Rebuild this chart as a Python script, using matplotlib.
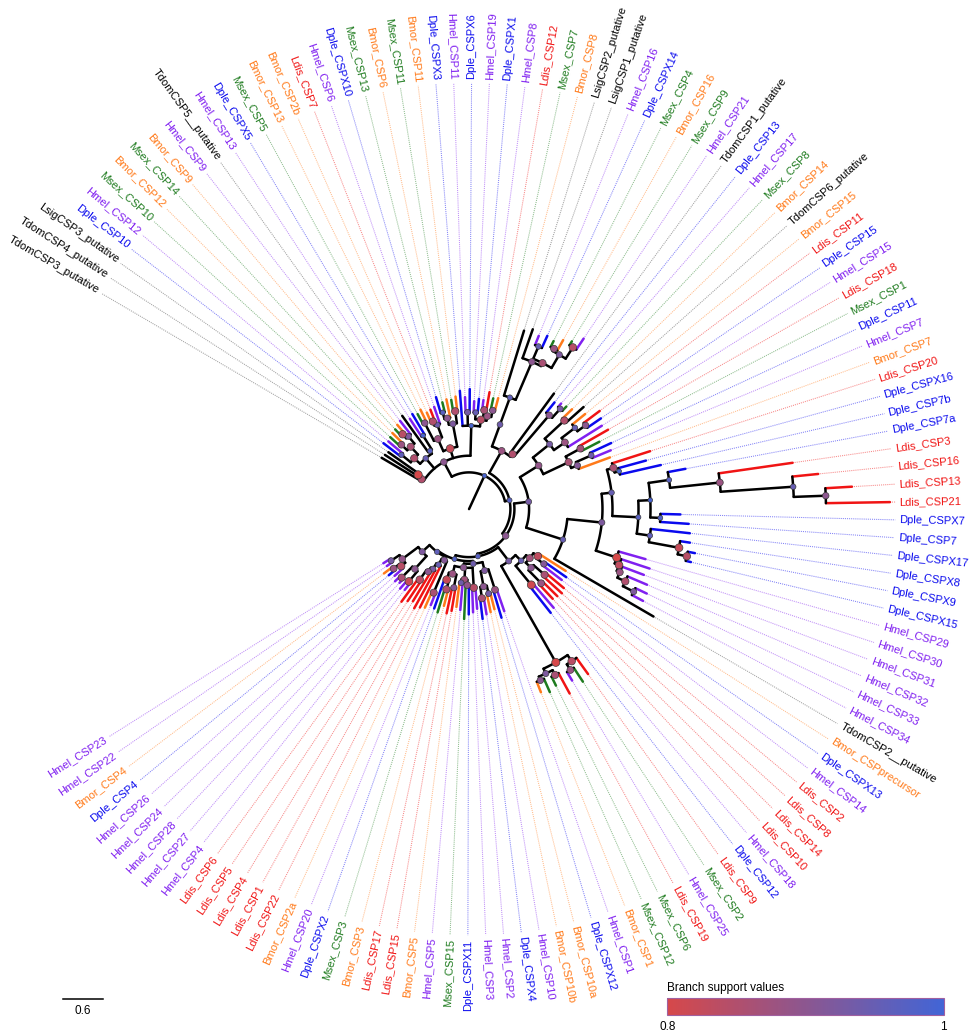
import numpy as np
import matplotlib
matplotlib.use("Agg")
import matplotlib.pyplot as plt
from matplotlib.colors import LinearSegmentedColormap, Normalize
from matplotlib.cm import ScalarMappable
from matplotlib.lines import Line2D

plt.rcParams["font.family"] = ["Liberation Sans", "DejaVu Sans"]

# Tree, written as Newick.  The number after ':' is the
# node's distance from the root (tree units), the label before it is the
# branch support in percent.
UL_A = "(TdomCSP3_putative:1.52,(TdomCSP4_putative:1.50,LsigCSP3_putative:1.48)80:0.92)85:0.84"
UL_B = ("(((Dple_CSP10:1.62,Hmel_CSP12:1.58)96:1.30,((Msex_CSP10:1.60,Bmor_CSP12:1.62)88:1.40,"
        "((Msex_CSP14:1.63,Bmor_CSP9:1.66)84:1.50,Hmel_CSP9:1.68)92:1.42)86:1.28)85:1.12,"
        "(TdomCSP5__putative:1.72,(Hmel_CSP13:1.62,Dple_CSPX5:1.66)99:1.30)97:1.05)95:1.00")
UL_C = ("(((Msex_CSP5:1.62,Bmor_CSP13:1.66)90:1.45,((Bmor_CSP2b:1.58,Ldis_CSP7:1.60)85:1.42,"
        "Hmel_CSP6:1.62)94:1.35)88:1.15,(((Dple_CSPX10:1.75,Msex_CSP13:1.65)97:1.50,"
        "Bmor_CSP6:1.68)90:1.40,(Msex_CSP11:1.66,Bmor_CSP11:1.70)85:1.48)92:1.30)82:0.95")
UL_D = ("(Dple_CSPX3:1.78,(Hmel_CSP11:1.68,Dple_CSPX6:1.80)93:1.45,((Hmel_CSP19:1.62,"
        "Dple_CSPX1:1.66)95:1.45,((Hmel_CSP8:1.65,Ldis_CSP12:1.78)86:1.50,(Msex_CSP7:1.70,"
        "Bmor_CSP8:1.72)90:1.52)88:1.42)84:1.35)99:1.25")

T_C = ("((Hmel_CSP16:2.80,Dple_CSPX14:2.85)95:2.65,((Msex_CSP4:2.82,Bmor_CSP16:2.90)88:2.72,"
       "(Msex_CSP9:2.95,Hmel_CSP21:3.08)84:2.88)92:2.68)86:2.45")
TOP2 = "(TdomCSP1_putative:2.15,(Dple_CSP13:2.05,(Hmel_CSP17:2.10,Msex_CSP8:2.12)93:2.03)90:1.85)85:1.05"

R_UP = ("(((Bmor_CSP14:2.15,TdomCSP6_putative:2.30)85:1.95,((Bmor_CSP15:2.25,(Ldis_CSP11:2.45,"
        "Dple_CSP15:2.40)90:2.15)95:2.00,Hmel_CSP15:2.35)88:1.75)93:1.55,((Ldis_CSP18:2.40,"
        "Msex_CSP1:2.20)87:1.90,((Dple_CSP11:2.35,Hmel_CSP7:2.30)94:2.00,Bmor_CSP7:2.25)91:1.75)86:1.65)89:1.23")
LDIS_LONG = "(Ldis_CSP3:4.90,(Ldis_CSP16:5.26,(Ldis_CSP13:5.75,Ldis_CSP21:6.31)90:5.35)95:4.87)88:3.78"
DPLE_U = "(Ldis_CSP20:2.85,(Dple_CSPX16:2.75,Dple_CSP7b:2.95)99:2.32)86:2.25"
DPLE_1 = "(Dple_CSPX7:3.17,Dple_CSP7:3.30)98:2.87"
DPLE_2 = "(Dple_CSPX17:3.33,(Dple_CSPX8:3.35,(Dple_CSPX9:3.45,Dple_CSPX15:3.42)84:3.34)82:3.20)96:2.74"
HMEL_H = ("(Hmel_CSP29:2.75,(Hmel_CSP30:2.85,(Hmel_CSP31:2.80,(Hmel_CSP32:2.90,(Hmel_CSP33:2.95,"
          "Hmel_CSP34:2.95)92:2.76)85:2.58)88:2.45)83:2.40)80:2.33")

LR_A = ("((Bmor_CSPprecursor:1.72,(Dple_CSPX13:1.78,Hmel_CSP14:1.75)91:1.39)83:1.25,((Ldis_CSP2:1.85,"
        "Ldis_CSP8:1.88)86:1.50,(Ldis_CSP14:1.86,Ldis_CSP10:1.84)88:1.55)90:1.28)87:1.17")
LR_B = "(Hmel_CSP18:1.95,Dple_CSP12:1.98)81:1.47"
LR_C = ("((Ldis_CSP9:3.05,(Msex_CSP2:3.10,Hmel_CSP25:3.00)88:2.85)84:2.75,((Ldis_CSP19:3.15,"
        "Msex_CSP6:2.95)86:2.80,(Msex_CSP12:3.00,Bmor_CSP1:2.95)90:2.78)92:2.72)80:2.64")

LL_1 = ("((Hmel_CSP1:1.62,Dple_CSPX12:1.70)88:1.27,((Bmor_CSP10a:1.55,Bmor_CSP10b:1.58)93:1.30,"
        "(Hmel_CSP10:1.60,Dple_CSPX4:1.66)86:1.35)90:1.18)92:0.95")
LL_2 = ("((Hmel_CSP2:1.50,Hmel_CSP3:1.55)84:1.18,((Dple_CSPX11:1.58,Msex_CSP15:1.65)89:1.14,"
        "(Hmel_CSP5:1.52,Bmor_CSP5:1.48)94:1.11)87:1.06,((Ldis_CSP15:1.55,Ldis_CSP17:1.60)91:1.20,"
        "((Bmor_CSP3:1.50,Msex_CSP3:1.62)85:1.25,Dple_CSPX2:1.58)82:1.11)88:1.00)90:0.88")
LL_3 = ("((Hmel_CSP20:1.55,Bmor_CSP2a:1.62)86:1.36,(Ldis_CSP22:1.65,(Ldis_CSP1:1.70,(Ldis_CSP4:1.62,"
        "(Ldis_CSP5:1.66,Ldis_CSP6:1.72)84:1.29)90:1.12)93:1.05)95:0.95)91:0.85")
LL_4 = ("(((Hmel_CSP4:1.55,Hmel_CSP27:1.58)82:1.41,(Hmel_CSP28:1.52,Hmel_CSP24:1.55)86:1.44)90:1.21,"
        "((Hmel_CSP26:1.50,(Dple_CSP4:1.56,Bmor_CSP4:1.60)88:1.44)84:1.33,(Hmel_CSP22:1.50,"
        "Hmel_CSP23:1.52)93:1.40)89:1.25)92:0.95")

UL = "(" + ",".join([UL_A, UL_B, UL_C, UL_D]) + ")90:0.80"
TOP = "(((LsigCSP2_putative:2.80,(LsigCSP1_putative:2.86," + T_C + ")90:2.40)96:1.78)94:1.35," + TOP2 + ")88:1.00"
M1 = "((Dple_CSP7a:3.30," + LDIS_LONG + ")97:3.03," + DPLE_1 + ")99:2.72"
RNODE = "(((" + DPLE_U + ",(" + M1 + "," + DPLE_2 + ")97:2.54)95:2.15," + HMEL_H + ")92:2.00,TdomCSP2__putative:3.20)95:1.48"
Q = "(" + R_UP + "," + RNODE + ")93:0.90"
LR = "((" + LR_A + "," + LR_B + ")95:1.10," + LR_C + ")93:0.98"
LL = "((" + LL_1 + "," + LL_2 + ")94:0.82,(" + LL_3 + "," + LL_4 + ")96:0.80)98:0.78"
TREE = "((" + UL + ",(" + TOP + ",(" + Q + ",(" + LR + "," + LL + ")97:0.72)90:0.68)97:0.62)99:0.55);"

species_colors = {"Bmor": "#ff7a1a", "Hmel": "#8020f0", "Dple": "#0a0aee",
                  "Msex": "#1e7b1e", "Ldis": "#f01414"}
support_range = (0.8, 1.0)
scale_length = 0.6


def parse_newick(text):
    s = "".join(text.split()).rstrip(";")
    pos = 0

    def read():
        nonlocal pos
        node = {"children": [], "name": "", "support": None, "depth": 0.0}
        if s[pos] == "(":
            pos += 1
            while True:
                node["children"].append(read())
                ch = s[pos]
                pos += 1
                if ch == ")":
                    break
        start = pos
        while pos < len(s) and s[pos] not in ",():":
            pos += 1
        label = s[start:pos]
        if pos < len(s) and s[pos] == ":":
            pos += 1
            start = pos
            while pos < len(s) and s[pos] not in ",()":
                pos += 1
            node["depth"] = float(s[start:pos])
        if node["children"]:
            node["support"] = float(label) / 100.0 if label else None
        else:
            node["name"] = label
        return node

    return read()


def iter_nodes(node, parent=None):
    yield node, parent
    for c in node["children"]:
        yield from iter_nodes(c, node)


root = parse_newick(TREE)
leaves = [n for n, _ in iter_nodes(root) if not n["children"]]

# fan layout: leaves evenly spaced, open gap on the left
leaf_angles = np.linspace(149.6, -147.7, len(leaves))
for leaf, a in zip(leaves, leaf_angles):
    leaf["angle"] = a


def set_angle(node):
    if node["children"]:
        for c in node["children"]:
            set_angle(c)
        node["angle"] = 0.5 * (node["children"][0]["angle"] + node["children"][-1]["angle"])


set_angle(root)


def tip_color(name):
    return species_colors.get(name.split("_")[0], "black")


fig = plt.figure(figsize=(9.7, 10.34), dpi=100)
ax = fig.add_axes([0.0021, 0.0560, 0.9629, 0.9033], projection="polar")
ax.set_ylim(0, 7.0)
ax.set_axis_off()

label_r = 6.45
lw = 1.8

for node, parent in iter_nodes(root):
    th = np.radians(node["angle"])
    if parent is not None:
        col = tip_color(node["name"]) if not node["children"] else "black"
        ax.plot([th, th], [parent["depth"], node["depth"]], color=col, lw=lw,
                solid_capstyle="round", zorder=3 if node["children"] else 2)
    if len(node["children"]) > 1:
        a0 = node["children"][0]["angle"]
        a1 = node["children"][-1]["angle"]
        arc = np.radians(np.linspace(a0, a1, int(abs(a1 - a0)) + 3))
        ax.plot(arc, np.full_like(arc, node["depth"]), color="black", lw=lw,
                solid_capstyle="round", zorder=3)

# dotted leaders and tip labels
for leaf in leaves:
    th = np.radians(leaf["angle"])
    col = tip_color(leaf["name"])
    lcol = "#444444" if col == "black" else col
    ax.plot([th, th], [leaf["depth"] + 0.03, label_r - 0.06], color=lcol, lw=0.75,
            ls=(0, (1, 1)), alpha=0.5, zorder=1)
    a = leaf["angle"]
    if -90 < a < 90:
        rot, ha = a, "left"
    else:
        rot, ha = (a - 180 if a > 0 else a + 180), "right"
    ax.text(th, label_r, leaf["name"], color=col, fontsize=8, rotation=rot,
            rotation_mode="anchor", ha=ha, va="center", clip_on=False, zorder=4)

# node points coloured by support
cmap = LinearSegmentedColormap.from_list("support", ["#d6484a", "#4265d6"])
norm = Normalize(*support_range)
nodes = [n for n, _ in iter_nodes(root) if n["support"] is not None]
sup = np.array([n["support"] for n in nodes])
ax.scatter(np.radians([n["angle"] for n in nodes]), [n["depth"] for n in nodes],
           c=sup, cmap=cmap, norm=norm, s=34 - 24 * (sup - 0.8) / 0.2,
           edgecolors="#3a3a3a", linewidths=0.5, zorder=5)

# colour bar legend
cax = fig.add_axes([0.688, 0.0184, 0.285, 0.0164])
cb = fig.colorbar(ScalarMappable(norm=norm, cmap=cmap), cax=cax, orientation="horizontal")
cb.set_ticks([0.8, 1.0])
cb.set_ticklabels(["0.8", "1"])
cb.outline.set_edgecolor("#a060a0")
cb.outline.set_linewidth(0.8)
cax.tick_params(length=0, labelsize=8.5, pad=4)
fig.text(0.688, 0.0445, "Branch support values", fontsize=8.5, va="center", ha="left")

# scale bar
p0 = ax.transData.transform((0, 0))
p1 = ax.transData.transform((0, scale_length))
bar = np.hypot(*(p1 - p0)) / fig.bbox.width
x0, yb = 0.065, 0.0338
fig.add_artist(Line2D([x0, x0 + bar], [yb, yb], transform=fig.transFigure, color="black", lw=1.1))
fig.text(x0 + bar / 2, 0.0225, f"{scale_length:g}", fontsize=8.5, ha="center", va="center")

fig.savefig("out.png", dpi=100, facecolor="white")
